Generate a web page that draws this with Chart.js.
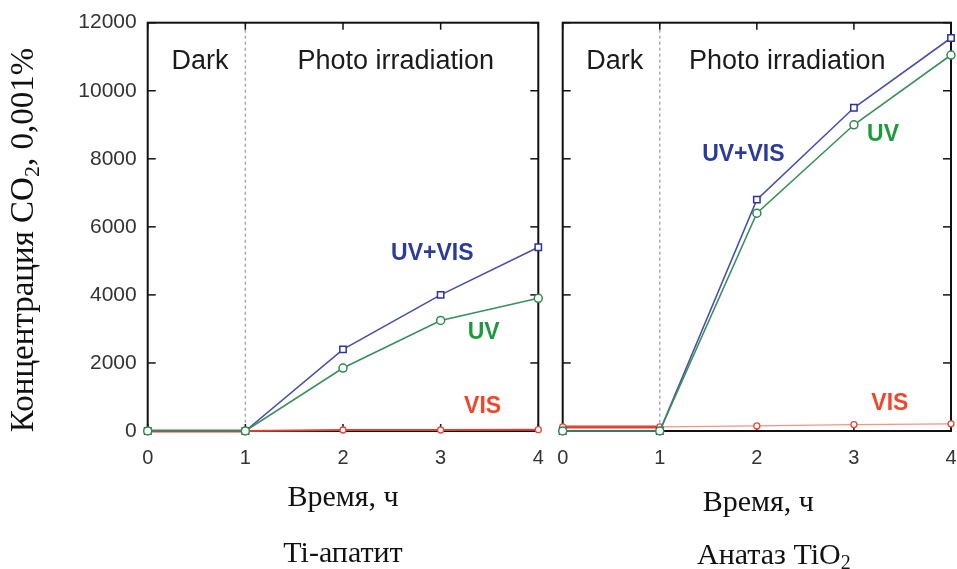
<!DOCTYPE html>
<html>
<head>
<meta charset="utf-8">
<script src="https://cdn.jsdelivr.net/npm/chart.js@4.4.1/dist/chart.umd.min.js"></script>
<style>
  html, body { margin: 0; padding: 0; background: #fff; }
  #wrap { position: relative; width: 957px; height: 569px; overflow: hidden; background: #fff; }
  canvas { position: absolute; top: 0; }
  #left { left: 0; }
  #right { left: 550px; }
</style>
</head>
<body>
<div id="wrap">
  <canvas id="left" width="550" height="569"></canvas>
  <canvas id="right" width="407" height="569"></canvas>
</div>
<script>
// Time axis (hours) and concentration ticks
const hours = [0, 1, 2, 3, 4];
const concentrationTicks = [0, 2000, 4000, 6000, 8000, 10000, 12000];
const darkPhaseEnd = 1;

// CO2 concentration, units of 0.001 %
const apatiteUvVis = [0, 0, 2400, 4000, 5400];
const apatiteUv    = [0, 0, 1850, 3250, 3900];
const apatiteVis   = [0, 0, 30, 30, 40];

const anataseUvVis = [0, 0, 6800, 9500, 11550];
const anataseUv    = [0, 0, 6400, 9000, 11050];
const anataseVis   = [120, 120, 150, 190, 210];

const SANS = '"Liberation Sans", Arial, sans-serif';
const SERIF = '"Liberation Serif", "Times New Roman", serif';

const COLORS = {
  uvVisLine: '#4a4fa8', uvVisMark: '#2a34a0', uvVisText: '#2c3a9c',
  uvLine: '#3a8f5c', uvMark: '#2f8a4e', uvText: '#1c9a3c',
  visLine: '#e4402f', visLight: '#f29488', visMark: '#e8453a', visText: '#f0462b'
};

function points(values) {
  return hours.map((h, i) => ({ x: h, y: values[i] }));
}

function line(ctx, x1, y1, x2, y2) {
  ctx.beginPath(); ctx.moveTo(x1, y1); ctx.lineTo(x2, y2); ctx.stroke();
}

// draws a run of text pieces (used for subscripts) centred on x
function drawRich(ctx, parts, x, y) {
  let total = 0;
  parts.forEach(p => { ctx.font = p.font; p.w = ctx.measureText(p.t).width; total += p.w; });
  let cx = x - total / 2;
  ctx.textAlign = 'left';
  parts.forEach(p => { ctx.font = p.font; ctx.fillText(p.t, cx, y + (p.dy || 0)); cx += p.w; });
}

const panelDecor = {
  id: 'panelDecor',
  beforeDatasetsDraw(chart, args, o) {
    const { ctx, chartArea: a, scales: { x, y } } = chart;
    ctx.save();
    // boundary between dark and irradiation phases
    const xd = x.getPixelForValue(darkPhaseEnd);
    ctx.strokeStyle = '#a9a9a9'; ctx.lineWidth = 1.5; ctx.setLineDash([3, 3]);
    line(ctx, xd, a.top + 1, xd, a.bottom - 1);
    ctx.setLineDash([]);
    // frame and inward ticks
    ctx.strokeStyle = '#111'; ctx.lineWidth = 2;
    ctx.strokeRect(a.left, a.top, a.right - a.left, a.bottom - a.top);
    ctx.lineWidth = 1.5;
    concentrationTicks.forEach(v => {
      const py = y.getPixelForValue(v);
      line(ctx, a.left, py, a.left + 8, py);
      line(ctx, a.right, py, a.right - 8, py);
    });
    hours.forEach(h => {
      const px = x.getPixelForValue(h);
      line(ctx, px, a.top, px, a.top + 7);
      line(ctx, px, a.bottom, px, a.bottom - 7);
    });
    ctx.restore();
  },
  afterDraw(chart, args, o) {
    const { ctx, chartArea: a, scales: { x, y } } = chart;
    ctx.save();
    ctx.textBaseline = 'middle';
    ctx.textAlign = 'center';
    (o.labels || []).forEach(l => {
      ctx.font = l.font;
      ctx.fillStyle = l.color;
      ctx.fillText(l.text, x.getPixelForValue(l.x), y.getPixelForValue(l.y));
    });
    ctx.fillStyle = '#111';
    ctx.textBaseline = 'alphabetic';
    const cx = (a.left + a.right) / 2;
    (o.captions || []).forEach(c => {
      drawRich(ctx, c.parts, cx + (c.dx || 0), c.y);
    });
    if (o.yTitle) {
      ctx.translate(o.yTitle.x, o.yTitle.y);
      ctx.rotate(-Math.PI / 2);
      drawRich(ctx, o.yTitle.parts, 0, 0);
    }
    ctx.restore();
  }
};

// dataset 0 is painted last, so UV sits on top and VIS underneath
function datasets(uvVis, uv, vis, visWidth) {
  return [
    {
      label: 'UV', data: points(uv),
      borderColor: COLORS.uvLine, borderWidth: 1.6,
      pointStyle: 'circle', pointRadius: 4, pointBorderWidth: 1.5,
      pointBorderColor: COLORS.uvMark, pointBackgroundColor: '#fff', clip: false
    },
    {
      label: 'UV+VIS', data: points(uvVis),
      borderColor: COLORS.uvVisLine, borderWidth: 1.6,
      pointStyle: 'rect', pointRadius: 4.5, pointBorderWidth: 1.5,
      pointBorderColor: COLORS.uvVisMark, pointBackgroundColor: '#fff', clip: false
    },
    {
      label: 'VIS', data: points(vis),
      borderColor: COLORS.visLine, borderWidth: 1.5,
      segment: {
        borderColor: c => c.p0.parsed.x < darkPhaseEnd ? COLORS.visLine : (visWidth ? COLORS.visLine : COLORS.visLight),
        borderWidth: c => c.p0.parsed.x < darkPhaseEnd ? 3 : (visWidth || 1.3)
      },
      pointStyle: 'circle', pointRadius: 3, pointBorderWidth: 1.3,
      pointBorderColor: COLORS.visMark, pointBackgroundColor: '#fff', clip: false
    }
  ];
}

function scalesConfig(showY, bottomHeight, yWidth) {
  return {
    x: {
      type: 'linear', min: 0, max: 4,
      afterBuildTicks: s => { s.ticks = hours.map(v => ({ value: v })); },
      ticks: { font: { family: SANS, size: 20 }, color: '#333', padding: 15, maxRotation: 0,
               callback: v => String(v) },
      grid: { display: false, drawTicks: false }, border: { display: false },
      afterFit: s => { s.height = bottomHeight; s.paddingLeft = 0; s.paddingRight = 0; }
    },
    y: {
      type: 'linear', min: 0, max: 12000, display: showY,
      afterBuildTicks: s => { s.ticks = concentrationTicks.map(v => ({ value: v })); },
      ticks: { font: { family: SANS, size: 21 }, color: '#333', padding: 11,
               callback: v => String(v) },
      grid: { display: false, drawTicks: false }, border: { display: false },
      afterFit: s => { s.width = yWidth; s.paddingTop = 0; s.paddingBottom = 0; }
    }
  };
}

const bold = `bold 23px ${SANS}`;
const plain = `27px ${SANS}`;
const serif = `30px ${SERIF}`;
const serifSub = `20px ${SERIF}`;

Chart.defaults.devicePixelRatio = 1;

new Chart(document.getElementById('left'), {
  type: 'line',
  data: { datasets: datasets(apatiteUvVis, apatiteUv, apatiteVis, 2) },
  options: {
    responsive: false, animation: false,
    layout: { padding: { left: 0, top: 22.7, right: 11.7, bottom: 0 } },
    plugins: {
      legend: { display: false }, tooltip: { enabled: false },
      panelDecor: {
        labels: [
          { text: 'Dark', x: 0.535, y: 10850, font: plain, color: '#1b1b1b' },
          { text: 'Photo irradiation', x: 2.54, y: 10850, font: plain, color: '#1b1b1b' },
          { text: 'UV+VIS', x: 2.915, y: 5200, font: bold, color: COLORS.uvVisText },
          { text: 'UV', x: 3.44, y: 2890, font: bold, color: COLORS.uvText },
          { text: 'VIS', x: 3.43, y: 715, font: bold, color: COLORS.visText }
        ],
        captions: [
          { parts: [{ t: 'Время, ч', font: serif }], y: 506 },
          { parts: [{ t: 'Ti-апатит', font: serif }], y: 562 }
        ],
        yTitle: {
          x: 33, y: 240,
          parts: [
            { t: 'Концентрация CO', font: `33px ${SERIF}` },
            { t: '2', font: `22px ${SERIF}`, dy: 6 },
            { t: ', 0,001%', font: `33px ${SERIF}` }
          ]
        }
      }
    },
    scales: scalesConfig(true, 138, 147.7)
  },
  plugins: [panelDecor]
});

new Chart(document.getElementById('right'), {
  type: 'line',
  data: { datasets: datasets(anataseUvVis, anataseUv, anataseVis, 0) },
  options: {
    responsive: false, animation: false,
    layout: { padding: { left: 12.7, top: 22.7, right: 4.7, bottom: 0 } },
    plugins: {
      legend: { display: false }, tooltip: { enabled: false },
      panelDecor: {
        labels: [
          { text: 'Dark', x: 0.537, y: 10850, font: plain, color: '#1b1b1b' },
          { text: 'Photo irradiation', x: 2.313, y: 10850, font: plain, color: '#1b1b1b' },
          { text: 'UV+VIS', x: 1.861, y: 8110, font: bold, color: COLORS.uvVisText },
          { text: 'UV', x: 3.30, y: 8700, font: bold, color: COLORS.uvText },
          { text: 'VIS', x: 3.37, y: 795, font: bold, color: COLORS.visText }
        ],
        captions: [
          { parts: [{ t: 'Время, ч', font: serif }], y: 511, dx: 1.5 },
          { parts: [
              { t: 'Анатаз TiO', font: serif },
              { t: '2', font: serifSub, dy: 5 }
            ], y: 564, dx: 17 }
        ]
      }
    },
    scales: scalesConfig(false, 138, 0)
  },
  plugins: [panelDecor]
});
</script>
</body>
</html>
